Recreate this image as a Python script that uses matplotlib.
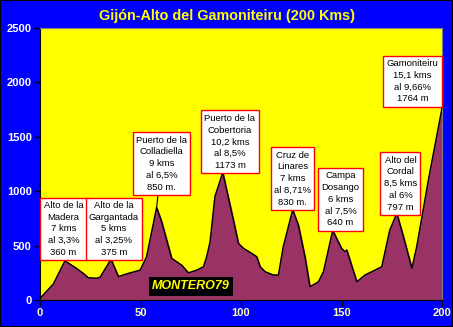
import matplotlib
matplotlib.use("Agg")
import matplotlib.pyplot as plt
import matplotlib.patches as mpatches

# perfil de la etapa (km, altitud)
km = [0, 6.6, 12.4, 18.2, 21.5, 24, 28.2, 29.9, 35.3, 39, 43, 49.8, 53, 58,
      60.5, 65.5, 70.5, 73.8, 78, 81.3, 82.9, 84.6, 87, 90.9, 96.2, 98.7,
      101.2, 105.3, 107.8, 109.5, 112, 116, 118.6, 121, 125.7, 128.5, 131.8,
      134.3, 138.5, 141, 145.6, 150, 151.7, 152.6, 157.6, 161.7, 165, 170,
      174, 177.5, 180.8, 185, 187.4, 193.2, 200]
alt = [15, 147, 360, 290, 245, 205, 200, 210, 375, 215, 240, 275, 398, 850,
       720, 383, 320, 250, 275, 306, 398, 536, 950, 1173, 735, 521, 475, 429,
       398, 306, 260, 230, 230, 490, 830, 690, 398, 122, 168, 260, 640, 475,
       444, 460, 168, 230, 260, 306, 643, 797, 582, 291, 490, 1103, 1764]

# puertos
port_labels = [
    "Alto de la\nMadera\n7 kms\nal 3,3%\n360 m",
    "Alto de la\nGargantada\n5 kms\nal 3,25%\n375 m",
    "Puerto de la\nColladiella\n9 kms\nal 6,5%\n850 m.",
    "Puerto de la\nCobertoria\n10,2 kms\nal 8,5%\n1173 m",
    "Cruz de\nLinares\n7 kms\nal 8,71%\n830 m.",
    "Campa\nDosango\n6 kms\nal 7,5%\n640 m",
    "Alto del\nCordal\n8,5 kms\nal 6%\n797 m",
    "Gamoniteiru\n15,1 kms\nal 9,66%\n1764 m",
]
port_km = [12.4, 35.3, 58, 90.9, 125.7, 145.6, 177.5, 200]
port_alt = [360, 375, 850, 1173, 830, 640, 797, 1764]
# donde va cada cartel (centro x, base y)
box_x = [11.7, 36.8, 60.5, 94.5, 125.6, 149.5, 179.3, 185.3]
box_y = [395, 395, 995, 1195, 857, 667, 811, 1807]

x_ticks = [0, 50, 100, 150, 200]
y_ticks = [0, 500, 1000, 1500, 2000, 2500]

BLUE = '#0000FF'
YELLOW = '#FFFF00'
PLUM = '#993366'

fig = plt.figure(figsize=(4.53, 3.27), dpi=100)
fig.patch.set_facecolor(BLUE)
fig.patches.append(mpatches.Rectangle((0, 0), 1, 1, transform=fig.transFigure,
                                      fill=False, edgecolor='black', lw=1.5))

ax = fig.add_axes([40/453, 1 - 300/327, 402/453, 272/327])
ax.set_facecolor(YELLOW)
ax.fill_between(km, alt, 0, color=PLUM, zorder=2)
ax.plot(km, alt, color='black', lw=1, zorder=3)

ax.set_xlim(0, 200)
ax.set_ylim(0, 2500)
ax.set_xticks(x_ticks)
ax.set_yticks(y_ticks)
ax.tick_params(axis='both', direction='out', length=4, width=1, color='black', pad=2)
for lab in ax.get_yticklabels():
    lab.set_color('white')
    lab.set_fontweight('bold')
    lab.set_fontsize(8)
    lab.set_family('Liberation Sans')
for lab in ax.get_xticklabels():
    lab.set_color('#FFFFA8')
    lab.set_fontweight('bold')
    lab.set_fontsize(8)
    lab.set_family('Liberation Sans')
for s in ['top', 'right']:
    ax.spines[s].set_color('#808080')
for s in ['left', 'bottom']:
    ax.spines[s].set_color('black')

for txt, px, py, bx, by in zip(port_labels, port_km, port_alt, box_x, box_y):
    ax.annotate(txt, xy=(px, py), xytext=(bx, by), ha='center', va='bottom',
                multialignment='center', fontsize=6.8, family='Liberation Sans',
                linespacing=1.4, zorder=5,
                bbox=dict(boxstyle='square,pad=0.35', fc='white', ec='red', lw=1),
                arrowprops=dict(arrowstyle='-', color='black', lw=0.8,
                                shrinkA=0, shrinkB=0))

ax.text(75, 70, "MONTERO79", ha='center', va='bottom', fontsize=9,
        fontweight='bold', fontstyle='italic', color=YELLOW,
        family='Liberation Sans', zorder=6,
        bbox=dict(boxstyle='square,pad=0.25', fc='black', ec='none'))

fig.text(0.502, 0.951, "Gijón-Alto del Gamoniteiru (200 Kms)", ha='center',
         va='center', fontsize=10.4, fontweight='bold', color=YELLOW,
         family='Liberation Sans')

fig.savefig('out.png', dpi=100, facecolor=BLUE)
